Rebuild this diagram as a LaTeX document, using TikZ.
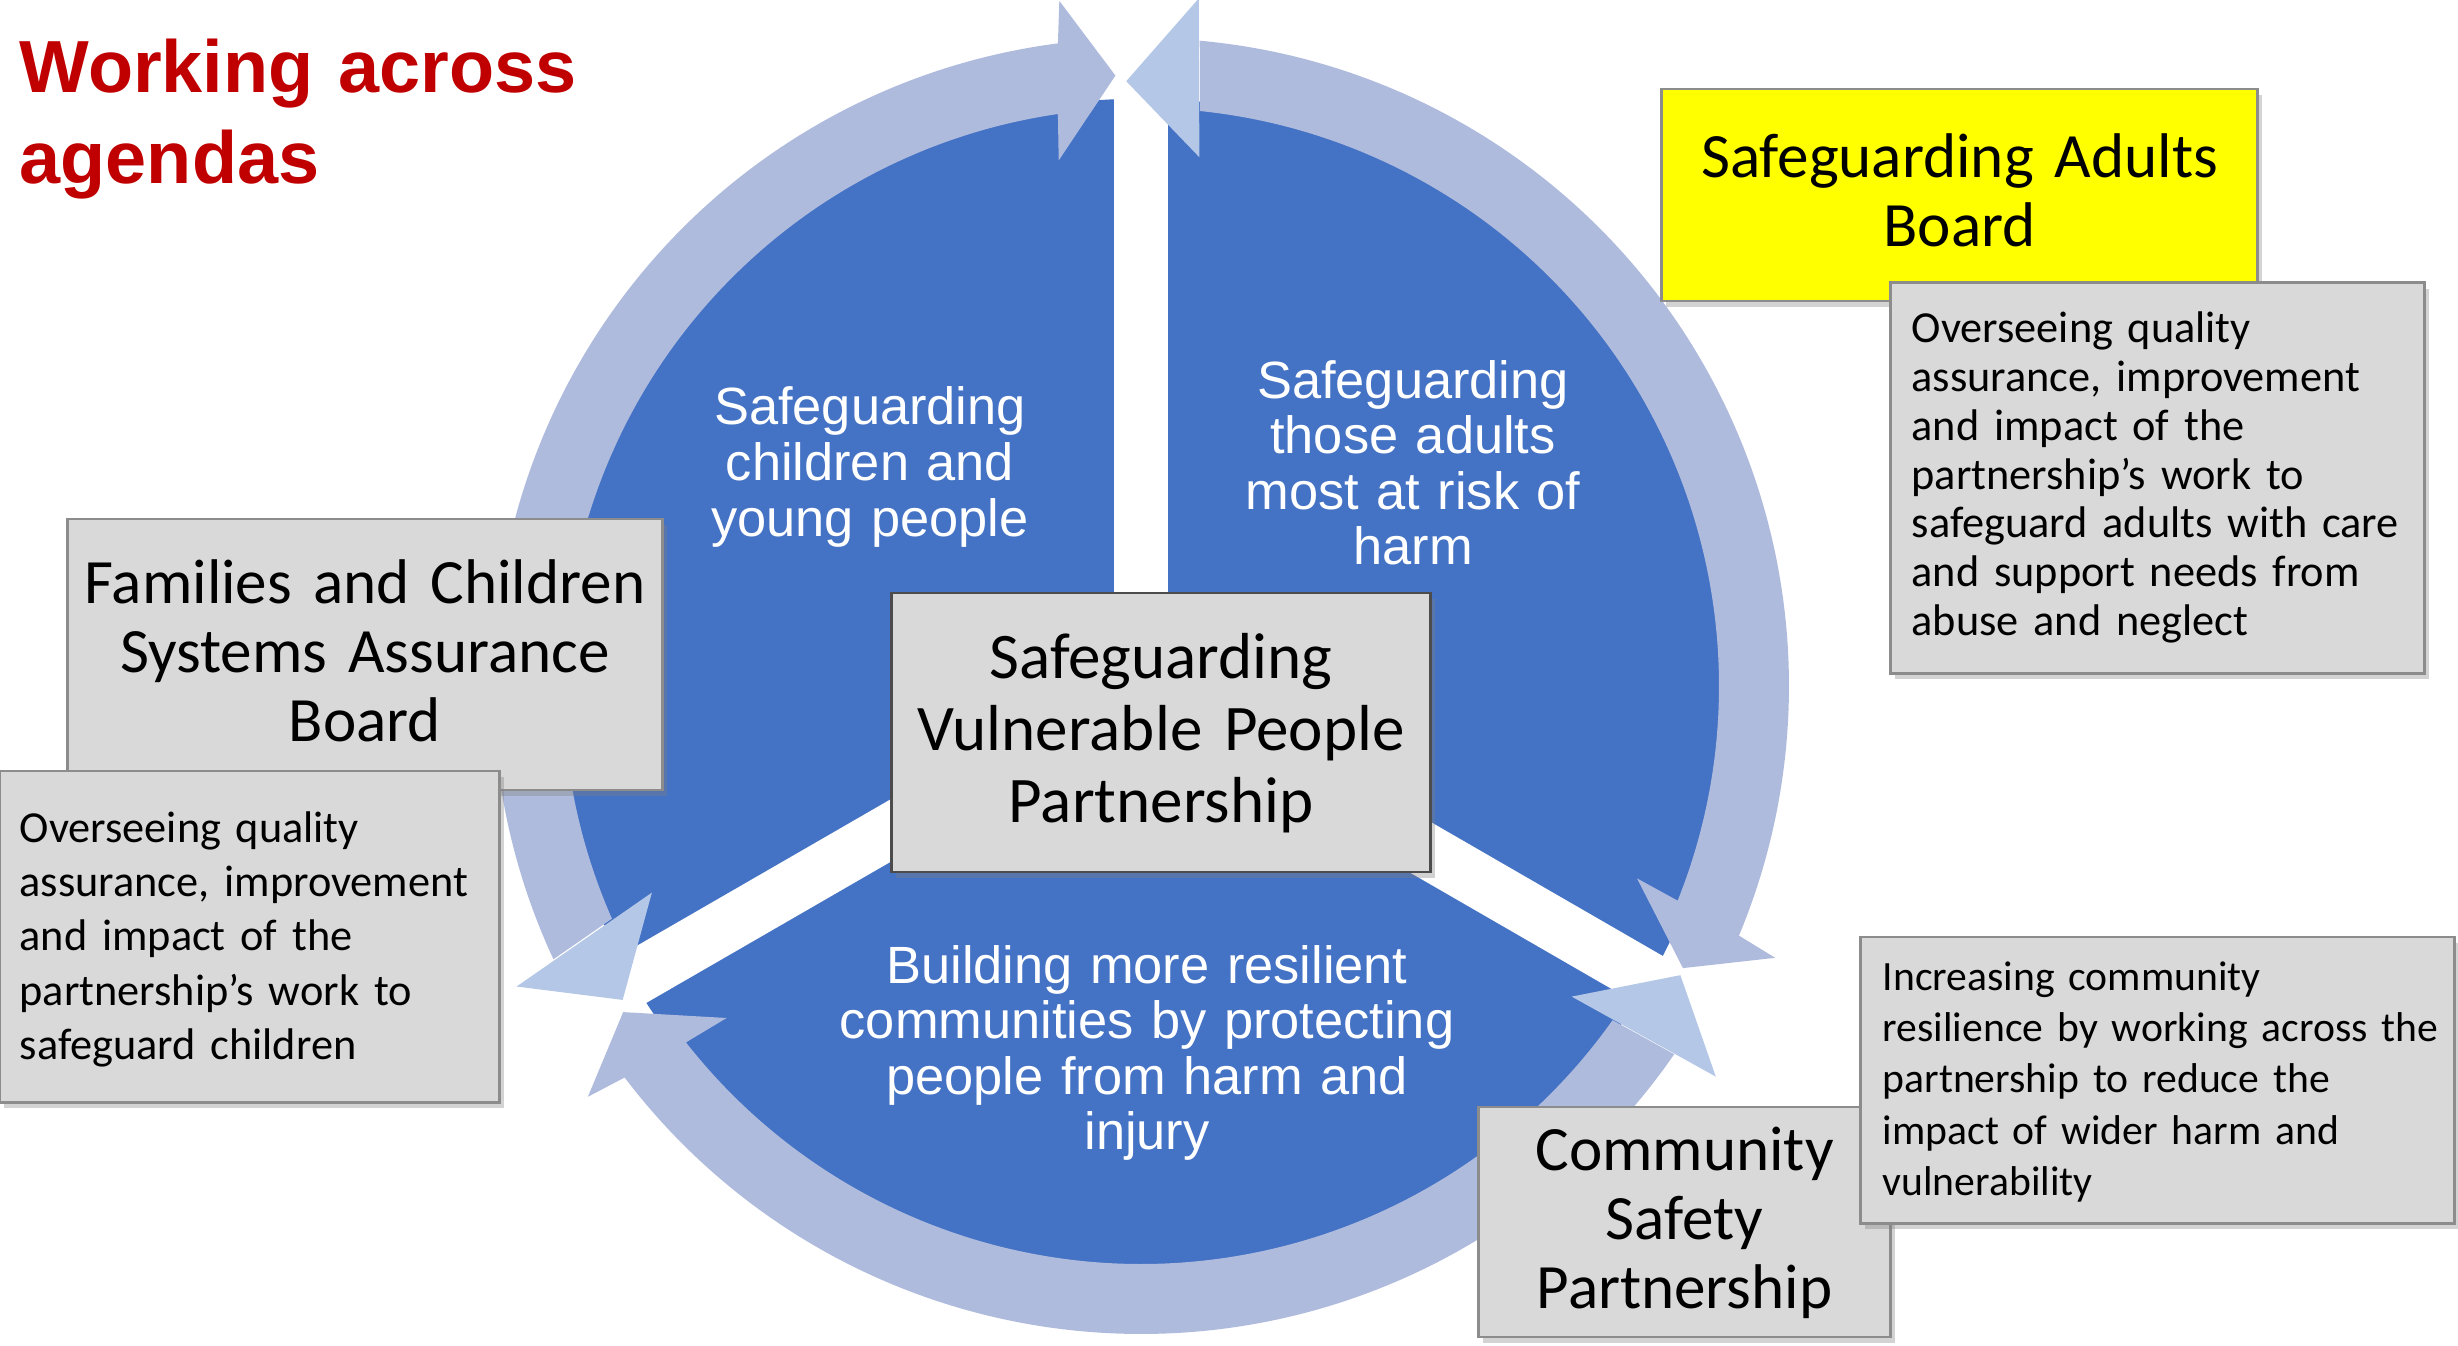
\documentclass[tikz,border=0pt]{standalone}
\usepackage{fontspec}
\setmainfont{Carlito}
\newfontfamily\arialf{Liberation Sans}
\usetikzlibrary{shadows}
\definecolor{diskblue}{HTML}{4472C4}
\definecolor{bandc}{HTML}{AFBBDD}
\definecolor{lighthead}{HTML}{B4C7E7}
\definecolor{boxgray}{HTML}{D9D9D9}
\definecolor{boxline}{HTML}{8C8C8C}
\definecolor{titlered}{HTML}{C00000}
\definecolor{boxyellow}{HTML}{FFFF00}
\newcommand\myfs[2]{\fontsize{#1}{#2}\selectfont}
\begin{document}
\begin{tikzpicture}[x=0.01cm,y=0.01cm,
  boxshape/.style={draw=boxline, line width=0.8pt, fill=boxgray, inner sep=0pt,
     drop shadow={shadow xshift=1.3pt, shadow yshift=-1.6pt, opacity=0.35}},
  txtc/.style={inner sep=0pt, anchor=base, text width=9cm, align=center},
  txtl/.style={inner sep=0pt, anchor=base west, text width=8cm, align=left},
  bigtxt/.style={txtc, font=\myfs{17.95}{19.6}},
  centertxt/.style={txtc, font=\myfs{18.5}{20.6}},
  pietxt/.style={txtc, text=white, font=\arialf\myfs{14.9}{15.8}},
  band/.style={fill=bandc},
  lhead/.style={fill=lighthead}
]
\useasboundingbox (0,0) rectangle (2458,-1346);

% disk with gaps
\node[circle, fill=diskblue, minimum size=11.74cm, inner sep=0pt] (disk) at (1141,-686) {};
\foreach \a in {90,210,330}
  \draw[white, line width=15.4pt] (disk.center) -- ++(\a:600);

% circular arrows
\begin{scope}[shift={(1141,-686)}]
  % left arc
  \fill[band] (203.74:578) -- (204.94:648) arc[start angle=204.94, end angle=97.37, radius=648]
     -- (96.8:690) -- (92.4:611) -- (98.9:532) -- (98.27:578)
     arc[start angle=98.27, end angle=203.74, radius=578] -- cycle;
  % right arc
  \fill[band] (84.15:578) -- (84.8:648) arc[start angle=84.8, end angle=-22.66, radius=648]
     -- (-23.2:690) -- (-27.5:611) -- (-21.2:532) -- (-21.8:578)
     arc[start angle=-21.8, end angle=84.15, radius=578] -- cycle;
  % bottom arc
  \fill[band] (324.68:578) -- (325.37:648) arc[start angle=325.37, end angle=217.17, radius=648]
     -- (216.6:689) -- (212.2:612) -- (218.7:531) -- (218.07:578)
     arc[start angle=218.07, end angle=324.68, radius=578] -- cycle;
  % lighter heads
  \fill[lhead] (83.7:532) -- (85.2:690) -- (91.4:605) -- cycle;
  \fill[lhead] (202.9:531) -- (205.7:693) -- (211.2:606) -- cycle;
  \fill[lhead] (324.2:531) -- (325.8:695) -- (331.8:612) -- cycle;
\end{scope}

% pie texts
\node[pietxt] (tl) at (870,-425) {Safeguarding\\children and\\young people};
\node[pietxt] (tr) at (1413,-398.3) {Safeguarding\\those adults\\most at risk of\\harm};
\node[pietxt] (tb) at (1147,-983) {Building more resilient\\communities by protecting\\people from harm and\\injury};

% Safeguarding Adults Board
\node[boxshape, fill=boxyellow, minimum width=5.95cm, minimum height=2.12cm] (ysab) at (1959.5,-195) {};
\node[bigtxt] (ysabt) at (1959.5,-177.5) {Safeguarding Adults\\Board};
\node[boxshape, minimum width=5.33cm, minimum height=3.90cm] (ovr) at (2157.5,-478) {};
\node[txtl, font=\myfs{12.6}{13.86}] (ovrt) at (1911,-343) {Overseeing quality\\assurance, improvement\\and impact of the\\partnership’s work to\\safeguard adults with care\\and support needs from\\abuse and neglect};

% Families and Children
\node[boxshape, minimum width=5.94cm, minimum height=2.71cm] (fcb) at (365,-654.5) {};
\node[bigtxt] (fcbt) at (365,-603.6) {Families and Children\\Systems Assurance\\Board};
\node[boxshape, minimum width=4.99cm, minimum height=3.31cm] (ovl) at (249.5,-936.5) {};
\node[txtl, font=\myfs{12.6}{15.45}] (ovlt) at (19,-842) {Overseeing quality\\assurance, improvement\\and impact of the\\partnership’s work to\\safeguard children};

% centre
\node[boxshape, draw=black!70, minimum width=5.38cm, minimum height=2.79cm] (svpp) at (1161,-732.5) {};
\node[centertxt] (svppt) at (1161,-678) {Safeguarding\\Vulnerable People\\Partnership};

% Community Safety Partnership
\node[boxshape, minimum width=4.11cm, minimum height=2.30cm] (csp) at (1684.5,-1222) {};
\node[bigtxt] (cspt) at (1684.5,-1170.7) {Community\\Safety\\Partnership};
\node[boxshape, minimum width=5.93cm, minimum height=2.86cm] (icr) at (2157.5,-1080) {};
\node[txtl, font=\myfs{11.85}{14.54}] (icrt) at (1882,-990.7) {Increasing community\\resilience by working across the\\partnership to reduce the\\impact of wider harm and\\vulnerability};

% title
\node[txtl, text width=10cm, text=titlered, font=\arialf\bfseries\myfs{21}{25.6}] (title) at (19,-93) {Working across\\agendas};
\end{tikzpicture}
\end{document}
